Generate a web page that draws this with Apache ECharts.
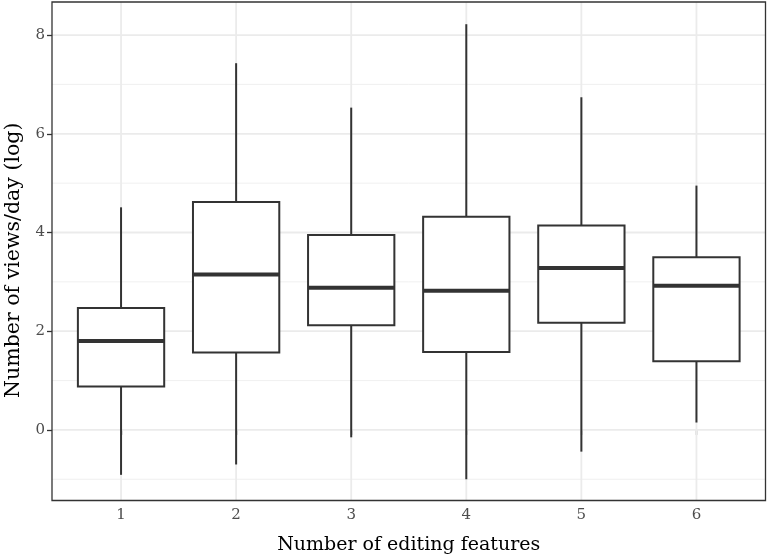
<!DOCTYPE html>
<html><head><meta charset="utf-8">
<script src="https://cdn.jsdelivr.net/npm/echarts@6/dist/echarts.min.js"></script>
<style>html,body{margin:0;padding:0;background:#fff}#c{width:768px;height:560px}</style>
</head><body><div id="c"></div>
<script>
// ---- data ----
const categories = ['1', '2', '3', '4', '5', '6'];
const categoryPos = [1, 2, 3, 4, 5, 6];
const whiskerLow = [-0.91, -0.70, -0.15, -1.00, -0.44, 0.15];
const q1 = [0.88, 1.57, 2.12, 1.58, 2.17, 1.39];
const median = [1.80, 3.15, 2.88, 2.82, 3.28, 2.92];
const q3 = [2.47, 4.62, 3.95, 4.32, 4.14, 3.50];
const whiskerHigh = [4.51, 7.43, 6.53, 8.22, 6.74, 4.95];
const yMajorTicks = [0, 2, 4, 6, 8];
const yMinorTicks = [-1, 1, 3, 5, 7];
const xTitle = 'Number of editing features';
const yTitle = 'Number of views/day (log)';

// ---- build ----
const FONT = 'DejaVu Serif';
const boxData = categoryPos.map((x, i) => [x, whiskerLow[i], q1[i], median[i], q3[i], whiskerHigh[i]]);

function hLine(color, width) {
  return function (params, api) {
    const cs = params.coordSys;
    const y = api.coord([1, api.value(0)])[1];
    return { type: 'line', shape: { x1: cs.x, y1: y, x2: cs.x + cs.width, y2: y },
      style: { stroke: color, lineWidth: width }, silent: true };
  };
}
function vLine(color, width) {
  return function (params, api) {
    const cs = params.coordSys;
    const x = api.coord([api.value(0), 0])[0];
    return { type: 'line', shape: { x1: x, y1: cs.y, x2: x, y2: cs.y + cs.height },
      style: { stroke: color, lineWidth: width }, silent: true };
  };
}

const chart = echarts.init(document.getElementById('c'), null, { renderer: 'canvas' });
chart.setOption({
  backgroundColor: '#ffffff',
  animation: false,
  grid: { left: 52, right: 2.5, top: 2, bottom: 59.5, outerBoundsMode: 'none', containLabel: false, show: true, borderColor: '#333333', borderWidth: 1.3, backgroundColor: 'transparent', z: 10 },
  xAxis: {
    type: 'value', min: 0.4, max: 6.6,
    axisLine: { show: false },
    splitLine: { show: false },
    axisTick: { show: true, customValues: categoryPos, length: 5, lineStyle: { color: '#333333', width: 1.3 } },
    axisLabel: { customValues: categoryPos, formatter: v => categories[categoryPos.indexOf(v)], color: '#4d4d4d', fontSize: 15, fontFamily: FONT, margin: 7 },
    name: xTitle, nameLocation: 'middle', nameGap: 35,
    nameTextStyle: { fontSize: 19, fontFamily: FONT, color: '#000000' }
  },
  yAxis: {
    type: 'value', min: -1.43, max: 8.67,
    axisLine: { show: false },
    splitLine: { show: false },
    axisTick: { show: true, customValues: yMajorTicks, length: 5, lineStyle: { color: '#333333', width: 1.3 } },
    axisLabel: { customValues: yMajorTicks, color: '#4d4d4d', fontSize: 15, fontFamily: FONT, margin: 7 },
    name: yTitle, nameLocation: 'middle', nameGap: 26,
    nameTextStyle: { fontSize: 20.5, fontFamily: FONT, color: '#000000', padding: [0, 18, 0, 0] }
  },
  series: [
    { type: 'custom', data: yMinorTicks.map(v => [v]), renderItem: hLine('#f0f0f0', 1), z: 1, silent: true },
    { type: 'custom', data: yMajorTicks.map(v => [v]), renderItem: hLine('#ebebeb', 1.8), z: 1, silent: true },
    { type: 'custom', data: categoryPos.map(v => [v]), renderItem: vLine('#ebebeb', 1.8), z: 1, silent: true },
    {
      type: 'custom', data: boxData, z: 5,
      renderItem: function (params, api) {
        const x = api.value(0);
        const pLow = api.coord([x, api.value(1)]);
        const pQ1 = api.coord([x, api.value(2)]);
        const pMed = api.coord([x, api.value(3)]);
        const pQ3 = api.coord([x, api.value(4)]);
        const pHigh = api.coord([x, api.value(5)]);
        const w = api.size([0.75, 0])[0];
        const cx = pMed[0];
        const st = { stroke: '#333333', lineWidth: 2 };
        return {
          type: 'group',
          children: [
            { type: 'line', shape: { x1: cx, y1: pHigh[1], x2: cx, y2: pQ3[1] }, style: st },
            { type: 'line', shape: { x1: cx, y1: pQ1[1], x2: cx, y2: pLow[1] }, style: st },
            { type: 'rect', shape: { x: cx - w / 2, y: pQ3[1], width: w, height: pQ1[1] - pQ3[1] }, style: { fill: '#ffffff', stroke: '#333333', lineWidth: 2 } },
            { type: 'line', shape: { x1: cx - w / 2, y1: pMed[1], x2: cx + w / 2, y2: pMed[1] }, style: { stroke: '#333333', lineWidth: 4 } }
          ]
        };
      }
    }
  ]
});
</script>
</body></html>
